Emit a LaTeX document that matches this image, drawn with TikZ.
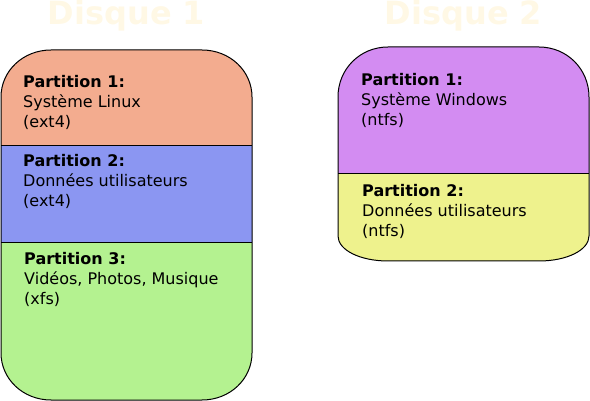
\documentclass[tikz,border=0pt]{standalone}
\usepackage{fontspec}
\setmainfont{DejaVu Sans}
\definecolor{titlecol}{RGB}{255,248,229}
\definecolor{pA}{RGB}{243,172,143}
\definecolor{pB}{RGB}{139,150,242}
\definecolor{pC}{RGB}{180,242,144}
\definecolor{pD}{RGB}{211,140,242}
\definecolor{pE}{RGB}{238,242,141}
\newcommand\plabel[3]{\vtop{\hbox{\textbf{#1}}\hbox{#2}\hbox{#3}}}
\begin{document}
\begin{tikzpicture}[x=1pt,y=-1pt,
  title/.style={font=\fontsize{32}{38}\selectfont\bfseries, text=titlecol, anchor=base, inner sep=0pt},
  parttext/.style={font=\fontsize{16}{20}\selectfont, anchor=base west, inner sep=0pt, text=black},
  outline/.style={draw=black, line width=1pt},
  divider/.style={draw=black, line width=1pt}]
\useasboundingbox (0,0) rectangle (590,401);

% ---- Disque 1 ----
\def\diskone{(1,97) -- (1,353) .. controls (1,379) and (23,400) .. (51,400) -- (202,400) .. controls (230,400) and (252,379) .. (252,353) -- (252,97) .. controls (252,71) and (230,50) .. (202,50) -- (51,50) .. controls (23,50) and (1,71) .. (1,97) -- cycle}
\begin{scope}
  \clip \diskone;
  \fill[pA] (0,40) rectangle (260,146);
  \fill[pB] (0,146) rectangle (260,243);
  \fill[pC] (0,243) rectangle (260,410);
\end{scope}
\coordinate (d1a) at (1,146);
\coordinate (d1b) at (252,146);
\coordinate (d1c) at (1,243);
\coordinate (d1d) at (252,243);
\draw[divider] (d1a) -- (d1b);
\draw[divider] (d1c) -- (d1d);
\draw[outline] \diskone;

% ---- Disque 2 ----
\def\disktwo{(338,97) -- (338,236) .. controls (338,250) and (360,261) .. (388,261) -- (539,261) .. controls (567,261) and (589,250) .. (589,236) -- (589,97) .. controls (589,69) and (567,47) .. (539,47) -- (388,47) .. controls (360,47) and (338,69) .. (338,97) -- cycle}
\begin{scope}
  \clip \disktwo;
  \fill[pD] (330,40) rectangle (595,174);
  \fill[pE] (330,174) rectangle (595,270);
\end{scope}
\coordinate (d2a) at (338,174);
\coordinate (d2b) at (589,174);
\draw[divider] (d2a) -- (d2b);
\draw[outline] \disktwo;

% ---- Titles ----
\node[title] (t1) at (126.5,25) {Disque 1};
\node[title] (t2) at (463.5,25) {Disque 2};

% ---- Texts ----
\node[parttext] (p11) at (23,88) {\plabel{Partition 1:}{Système Linux}{(ext4)}};
\node[parttext] (p12) at (23,167) {\plabel{Partition 2:}{Données utilisateurs}{(ext4)}};
\node[parttext] (p13) at (24,265) {\plabel{Partition 3:}{Vidéos, Photos, Musique}{(xfs)}};
\node[parttext] (p21) at (361,86) {\plabel{Partition 1:}{Système Windows}{(ntfs)}};
\node[parttext] (p22) at (362,197) {\plabel{Partition 2:}{Données utilisateurs}{(ntfs)}};
\end{tikzpicture}
\end{document}
